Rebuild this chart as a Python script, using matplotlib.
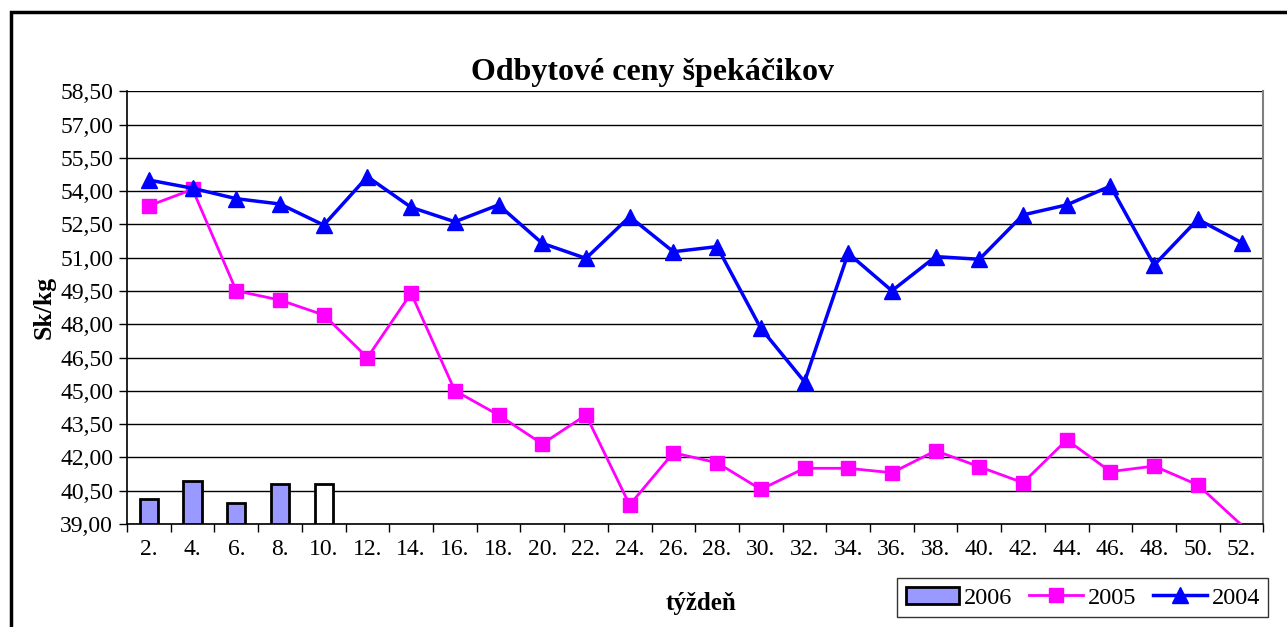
import matplotlib.pyplot as plt
import matplotlib.patches as mpatches
from matplotlib.ticker import FuncFormatter
import numpy as np

plt.rcParams['font.family'] = ['Liberation Serif', 'DejaVu Serif']

weeks = ['2.', '4.', '6.', '8.', '10.', '12.', '14.', '16.', '18.', '20.', '22.', '24.', '26.',
         '28.', '30.', '32.', '34.', '36.', '38.', '40.', '42.', '44.', '46.', '48.', '50.', '52.']
y2006 = [40.11, 40.94, 39.93, 40.79, 40.79]
y2005 = [53.34, 54.08, 49.51, 49.09, 48.42, 46.50, 49.40, 45.01, 43.91, 42.61, 43.91, 39.86, 42.21,
         41.76, 40.56, 41.51, 41.51, 41.31, 42.30, 41.58, 40.86, 42.79, 41.36, 41.61, 40.76, 38.95]
y2004 = [54.50, 54.13, 53.66, 53.42, 52.47, 54.65, 53.27, 52.62, 53.38, 51.65, 50.97, 52.85, 51.27,
         51.50, 47.82, 45.41, 51.20, 49.51, 51.05, 50.93, 52.93, 53.38, 54.23, 50.67, 52.73, 51.68]
ymin, ymax = 39.0, 58.5

fig = plt.figure(figsize=(12.87, 6.27), dpi=100)
ax = fig.add_axes([0.0987, 0.1643, 0.8830, 0.6901])

x = np.arange(len(weeks))
bar_colors = ['#9999FF'] * (len(y2006) - 1) + ['white']
ax.bar(x[:len(y2006)], np.array(y2006) - ymin, bottom=ymin, width=0.42,
       color=bar_colors, edgecolor='black', linewidth=2, zorder=3)

# last 2005 value lies below the axis minimum, so its marker is not shown
vis05 = [i for i, v in enumerate(y2005) if v >= ymin]
ax.plot(x, y2005, color='#FF00FF', lw=2, marker='s', ms=10, markevery=vis05, zorder=4)
ax.plot(x, y2004, color='#0000FF', lw=2.5, marker='^', ms=11, zorder=5)

ax.set_xlim(-0.5, len(weeks) - 0.5)
ax.set_ylim(ymin, ymax)
ax.set_yticks(np.arange(ymin, ymax + 0.01, 1.5))
ax.yaxis.set_major_formatter(FuncFormatter(lambda v, p: f'{v:.2f}'.replace('.', ',')))
ax.grid(axis='y', color='black', lw=1, zorder=0)

ax.set_xticks(np.arange(-0.5, len(weeks), 1.0))
ax.set_xticklabels([])
ax.set_xticks(x, minor=True)
ax.set_xticklabels(weeks, minor=True)
ax.tick_params(axis='x', which='major', direction='out', length=6, width=1)
ax.tick_params(axis='x', which='minor', length=0, pad=11, labelsize=17)
ax.tick_params(axis='y', direction='out', length=6, width=1, labelsize=17, pad=4)

ax.spines['top'].set_visible(False)
ax.spines['right'].set_color('#808080')
ax.spines['right'].set_linewidth(1.5)
ax.spines['left'].set_linewidth(1.2)
ax.spines['bottom'].set_linewidth(1.2)

ax.set_ylabel('Sk/kg', fontsize=18.5, fontweight='bold', labelpad=3)
fig.text(0.545, 0.038, 'týždeň', fontsize=18, fontweight='bold', ha='center', va='center')
fig.text(0.507, 0.885, 'Odbytové ceny špekáčikov', fontsize=23, fontweight='bold',
         ha='center', va='center')

handles = [mpatches.Patch(facecolor='#9999FF', edgecolor='black', linewidth=2),
           plt.Line2D([], [], color='#FF00FF', lw=2, marker='s', ms=10),
           plt.Line2D([], [], color='#0000FF', lw=2.5, marker='^', ms=11)]
leg = fig.legend(handles, ['2006', '2005', '2004'], ncol=3, fontsize=17.5,
                 loc='upper left', bbox_to_anchor=(897 / 1287, 1 - 578 / 627),
                 frameon=True, fancybox=False, edgecolor='black', borderpad=0.35,
                 handlelength=2.2, handletextpad=0.2, columnspacing=0.7, borderaxespad=0)
leg.get_frame().set_linewidth(1)

fig.patches.append(mpatches.Rectangle((11 / 1287, -0.1), 1.2, 1 - 12 / 627 + 0.1,
                                      transform=fig.transFigure, fill=False,
                                      edgecolor='black', linewidth=2.5))

fig.savefig('out.png', dpi=100)
